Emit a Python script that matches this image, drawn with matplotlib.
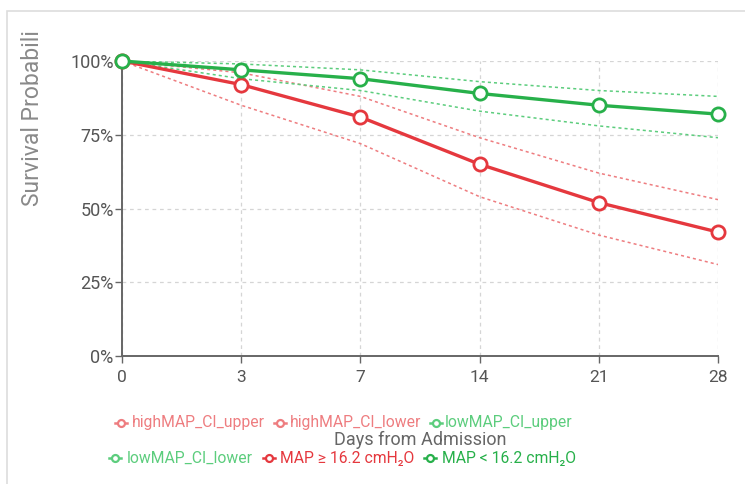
import matplotlib.pyplot as plt
from matplotlib.lines import Line2D
from matplotlib.patches import Rectangle
from matplotlib.ticker import PercentFormatter

plt.rcParams['font.family'] = ['Roboto', 'DejaVu Sans']

days = ['0', '3', '7', '14', '21', '28']

# survival estimates (%)
high_map = [100, 92, 81, 65, 52, 42]
high_ci_upper = [100, 96, 88, 74, 62, 53]
high_ci_lower = [100, 85, 72, 54, 41, 31]
low_map = [100, 97, 94, 89, 85, 82]
low_ci_upper = [100, 99, 97, 93, 90, 88]
low_ci_lower = [100, 94, 90, 83, 78, 74]

red = '#e5383e'
red_ci = '#ee7d80'
green = '#27b04a'
green_ci = '#5ccd7d'
grey_txt = '#555555'

W, H = 745, 484
fig = plt.figure(figsize=(W / 100, H / 100), dpi=100)
fig.patches.append(Rectangle((7 / W, -0.1), 1.1, 1 - 11 / H + 0.1,
                             transform=fig.transFigure, fill=False,
                             edgecolor='#dddddd', linewidth=1.2))

ax = fig.add_axes([122 / W, 1 - 356 / H, (718 - 122) / W, (356 - 61) / H])
x = list(range(len(days)))

ci_style = dict(linestyle=(0, (2, 2)), linewidth=1.1)
ax.plot(x, high_ci_upper, color=red_ci, **ci_style)
ax.plot(x, high_ci_lower, color=red_ci, **ci_style)
ax.plot(x, low_ci_upper, color=green_ci, **ci_style)
ax.plot(x, low_ci_lower, color=green_ci, **ci_style)

main_style = dict(linewidth=2.4, marker='o', markersize=9.5, markerfacecolor='white',
                  markeredgewidth=2, zorder=5, clip_on=False)
ax.plot(x, high_map, color=red, **main_style)
ax.plot(x, low_map, color=green, **main_style)

ax.set_xlim(0, len(days) - 1)
ax.set_ylim(0, 100)
ax.set_xticks(x)
ax.set_xticklabels(days)
ax.set_yticks([0, 25, 50, 75, 100])
ax.yaxis.set_major_formatter(PercentFormatter(decimals=0))
ax.tick_params(axis='x', colors='#666666', labelcolor=grey_txt, labelsize=12.5,
               length=5, width=1, pad=5)
ax.tick_params(axis='y', colors='#666666', labelcolor=grey_txt, labelsize=13,
               length=5, width=1, pad=1)

ax.grid(True, color='#d5d5d5', linestyle=(0, (3, 3)), linewidth=0.9)
ax.set_axisbelow(True)
for side in ['top', 'right']:
    ax.spines[side].set_visible(False)
for side in ['left', 'bottom']:
    ax.spines[side].set_color('#666666')
    ax.spines[side].set_linewidth(1.4)

fig.text(33 / W, 1 - 118 / H, 'Survival Probabili', rotation=90, ha='center',
         va='center', color='#8a8a8a', fontsize=16.5)
fig.text(420 / W, 1 - 440 / H, 'Days from Admission', ha='center', va='center',
         color='#666666', fontsize=13)

# legend, two centred rows: label, colour, marker x, text x, row y
legend_items = [
    ('highMAP_CI_upper', red_ci, 121, 132, 423),
    ('highMAP_CI_lower', red_ci, 280, 290, 423),
    ('lowMAP_CI_upper', green_ci, 436, 445, 423),
    ('lowMAP_CI_lower', green_ci, 115, 127, 458),
    ('MAP ≥ 16.2 cmH₂O', red, 269, 280, 458),
    ('MAP < 16.2 cmH₂O', green, 430, 442, 458),
]
for label, color, mx, tx, ly in legend_items:
    fy = 1 - ly / H
    fig.add_artist(Line2D([(mx - 6) / W, (mx + 6) / W], [fy, fy], color=color,
                          linewidth=1.8, transform=fig.transFigure))
    fig.add_artist(Line2D([mx / W], [fy], color=color, marker='o',
                          markersize=5, markerfacecolor='white', markeredgewidth=1.6,
                          transform=fig.transFigure))
    fig.text(tx / W, fy, label, ha='left', va='center', color=color,
             fontsize=11.3)

fig.savefig('out.png', dpi=100)
